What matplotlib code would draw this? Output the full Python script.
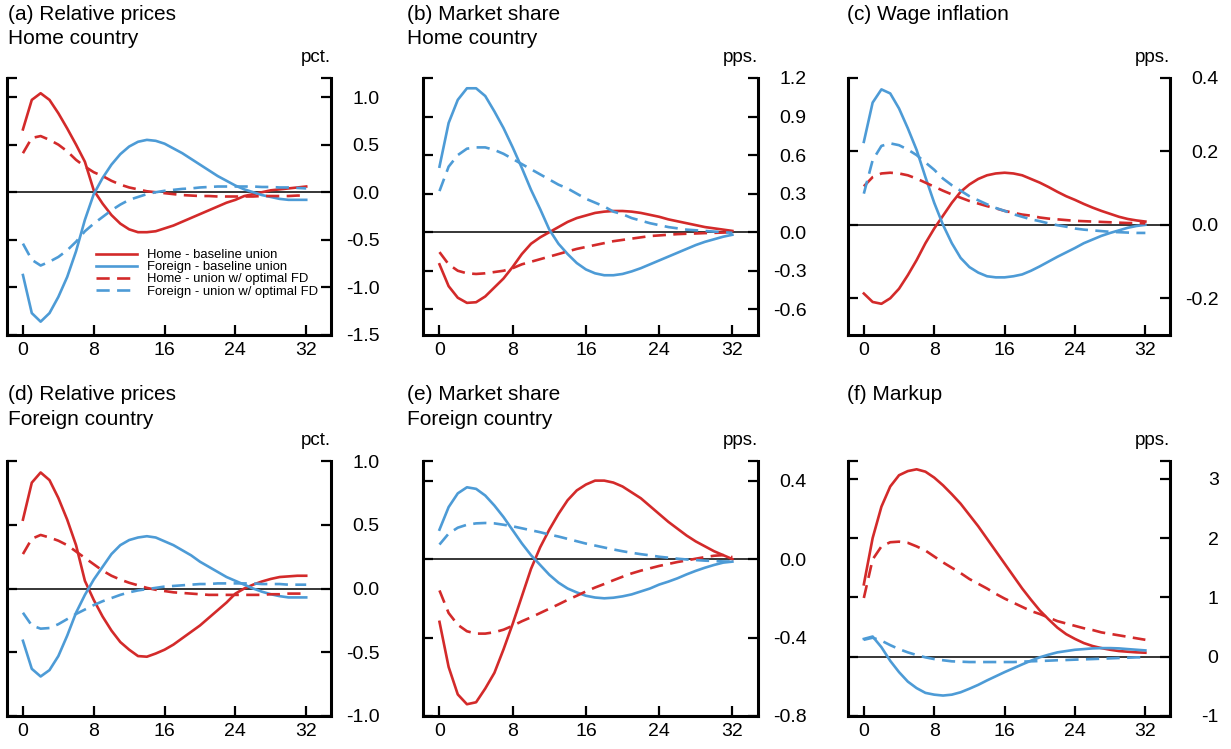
import matplotlib
matplotlib.use("Agg")
import matplotlib.pyplot as plt
import numpy as np

plt.rcParams['font.family'] = ['Liberation Sans', 'DejaVu Sans']

quarters = np.arange(33)

# (a) Relative prices, Home country
a_home_base = [0.66, 0.97, 1.04, 0.97, 0.83, 0.67, 0.50, 0.32, 0.02, -0.12, -0.24, -0.33, -0.39, -0.42, -0.42, -0.41,
               -0.38, -0.35, -0.31, -0.27, -0.23, -0.19, -0.15, -0.11, -0.08, -0.04, -0.02, 0.0, 0.02, 0.03, 0.04, 0.05, 0.06]
a_for_base = [-0.87, -1.27, -1.36, -1.27, -1.10, -0.89, -0.62, -0.29, -0.02, 0.15, 0.29, 0.40, 0.48, 0.53, 0.55, 0.54,
              0.51, 0.46, 0.41, 0.35, 0.29, 0.23, 0.17, 0.12, 0.07, 0.03, 0.0, -0.03, -0.05, -0.07, -0.08, -0.08, -0.08]
a_home_fd = [0.41, 0.57, 0.59, 0.55, 0.50, 0.43, 0.34, 0.27, 0.21, 0.17, 0.12, 0.08, 0.05, 0.03, 0.01, 0.0,
             -0.01, -0.02, -0.03, -0.035, -0.04, -0.04, -0.045, -0.045, -0.045, -0.045, -0.045, -0.04, -0.04, -0.04, -0.04, -0.035, -0.035]
a_for_fd = [-0.54, -0.71, -0.77, -0.73, -0.68, -0.61, -0.52, -0.41, -0.33, -0.26, -0.19, -0.13, -0.08, -0.05, -0.02, 0.0,
            0.015, 0.025, 0.035, 0.04, 0.05, 0.055, 0.06, 0.06, 0.06, 0.06, 0.06, 0.055, 0.055, 0.05, 0.05, 0.045, 0.04]

# (b) Market share, Home country
b_home_base = [-0.25, -0.42, -0.51, -0.55, -0.545, -0.50, -0.43, -0.36, -0.27, -0.17, -0.09, -0.04, 0.0, 0.04, 0.08, 0.11,
               0.13, 0.15, 0.16, 0.165, 0.165, 0.16, 0.15, 0.135, 0.12, 0.10, 0.085, 0.07, 0.055, 0.04, 0.03, 0.02, 0.01]
b_for_base = [0.51, 0.85, 1.03, 1.12, 1.12, 1.06, 0.94, 0.81, 0.66, 0.50, 0.33, 0.18, 0.02, -0.09, -0.17, -0.24,
              -0.29, -0.32, -0.335, -0.335, -0.325, -0.305, -0.28, -0.25, -0.22, -0.19, -0.16, -0.13, -0.10, -0.075, -0.055, -0.035, -0.02]
b_home_fd = [-0.155, -0.25, -0.30, -0.32, -0.325, -0.32, -0.31, -0.30, -0.28, -0.25, -0.23, -0.21, -0.19, -0.17, -0.15, -0.13,
             -0.115, -0.10, -0.085, -0.07, -0.06, -0.05, -0.04, -0.03, -0.025, -0.02, -0.015, -0.012, -0.01, -0.007, -0.005, -0.003, 0.0]
b_for_fd = [0.32, 0.51, 0.60, 0.65, 0.66, 0.66, 0.64, 0.61, 0.57, 0.53, 0.49, 0.45, 0.41, 0.37, 0.34, 0.30,
            0.26, 0.23, 0.20, 0.16, 0.14, 0.11, 0.09, 0.07, 0.055, 0.04, 0.03, 0.02, 0.015, 0.01, 0.005, 0.0, -0.005]

# (c) Wage inflation
c_home_base = [-0.187, -0.21, -0.215, -0.20, -0.174, -0.137, -0.096, -0.05, -0.01, 0.025, 0.06, 0.09, 0.11, 0.125, 0.135, 0.14,
               0.142, 0.14, 0.135, 0.125, 0.115, 0.103, 0.09, 0.078, 0.068, 0.057, 0.047, 0.038, 0.03, 0.022, 0.016, 0.012, 0.009]
c_for_base = [0.226, 0.333, 0.369, 0.358, 0.317, 0.263, 0.204, 0.13, 0.06, 0.0, -0.05, -0.09, -0.115, -0.13, -0.14, -0.143,
              -0.143, -0.14, -0.135, -0.125, -0.113, -0.10, -0.087, -0.075, -0.063, -0.05, -0.04, -0.03, -0.022, -0.015, -0.008, -0.003, 0.0]
c_home_fd = [0.105, 0.13, 0.14, 0.142, 0.14, 0.135, 0.126, 0.115, 0.104, 0.093, 0.083, 0.074, 0.065, 0.058, 0.051, 0.045,
             0.038, 0.033, 0.028, 0.025, 0.02, 0.017, 0.015, 0.013, 0.011, 0.01, 0.009, 0.008, 0.007, 0.006, 0.005, 0.005, 0.004]
c_for_fd = [0.085, 0.176, 0.215, 0.222, 0.217, 0.205, 0.19, 0.17, 0.15, 0.126, 0.108, 0.093, 0.078, 0.067, 0.056, 0.046,
            0.038, 0.029, 0.022, 0.015, 0.01, 0.004, -0.001, -0.005, -0.01, -0.013, -0.015, -0.017, -0.019, -0.02, -0.021, -0.022, -0.022]

# (d) Relative prices, Foreign country
d_home_base = [0.54, 0.83, 0.91, 0.85, 0.71, 0.54, 0.34, 0.06, -0.09, -0.22, -0.33, -0.42, -0.48, -0.53, -0.535, -0.51,
               -0.48, -0.44, -0.39, -0.34, -0.29, -0.23, -0.17, -0.11, -0.04, 0.0, 0.03, 0.055, 0.075, 0.09, 0.095, 0.1, 0.1]
d_for_base = [-0.41, -0.63, -0.69, -0.64, -0.53, -0.37, -0.19, -0.05, 0.07, 0.17, 0.27, 0.34, 0.38, 0.40, 0.41, 0.40,
              0.37, 0.34, 0.30, 0.26, 0.21, 0.17, 0.13, 0.09, 0.06, 0.03, 0.0, -0.025, -0.045, -0.06, -0.07, -0.07, -0.07]
d_home_fd = [0.27, 0.39, 0.42, 0.40, 0.375, 0.34, 0.29, 0.24, 0.19, 0.14, 0.10, 0.07, 0.045, 0.025, 0.005, -0.01,
             -0.02, -0.03, -0.035, -0.04, -0.045, -0.05, -0.05, -0.05, -0.05, -0.05, -0.05, -0.05, -0.045, -0.045, -0.04, -0.04, -0.04]
d_for_fd = [-0.19, -0.29, -0.315, -0.31, -0.28, -0.24, -0.20, -0.165, -0.13, -0.10, -0.075, -0.05, -0.03, -0.015, -0.005, 0.005,
            0.015, 0.02, 0.025, 0.03, 0.035, 0.035, 0.04, 0.04, 0.04, 0.04, 0.04, 0.035, 0.035, 0.035, 0.03, 0.03, 0.03]

# (e) Market share, Foreign country
e_home_base = [-0.32, -0.55, -0.69, -0.74, -0.73, -0.66, -0.58, -0.46, -0.33, -0.19, -0.05, 0.06, 0.15, 0.23, 0.30, 0.35,
               0.38, 0.40, 0.40, 0.39, 0.37, 0.34, 0.31, 0.27, 0.23, 0.19, 0.155, 0.12, 0.09, 0.065, 0.04, 0.02, 0.0]
e_for_base = [0.15, 0.265, 0.335, 0.366, 0.358, 0.324, 0.273, 0.214, 0.147, 0.08, 0.02, -0.03, -0.08, -0.12, -0.15, -0.17,
              -0.187, -0.196, -0.2, -0.197, -0.19, -0.18, -0.165, -0.15, -0.13, -0.115, -0.098, -0.078, -0.06, -0.044, -0.03, -0.018, -0.013]
e_home_fd = [-0.16, -0.275, -0.335, -0.368, -0.38, -0.38, -0.373, -0.36, -0.34, -0.317, -0.297, -0.275, -0.253, -0.231, -0.208, -0.187,
             -0.165, -0.145, -0.127, -0.108, -0.09, -0.073, -0.059, -0.047, -0.035, -0.025, -0.015, -0.007, 0.002, 0.01, 0.017, 0.02, 0.01]
e_for_fd = [0.074, 0.13, 0.16, 0.175, 0.182, 0.184, 0.182, 0.175, 0.167, 0.157, 0.147, 0.137, 0.125, 0.115, 0.103, 0.091,
            0.079, 0.069, 0.059, 0.049, 0.04, 0.032, 0.025, 0.019, 0.012, 0.007, 0.002, -0.002, -0.005, -0.008, -0.01, -0.012, -0.013]

# (f) Markup
f_home_base = [1.22, 2.0, 2.53, 2.87, 3.06, 3.13, 3.16, 3.12, 3.02, 2.89, 2.74, 2.58, 2.39, 2.20, 1.99, 1.78,
               1.57, 1.36, 1.15, 0.96, 0.78, 0.63, 0.49, 0.38, 0.30, 0.23, 0.18, 0.145, 0.117, 0.095, 0.084, 0.073, 0.067]
f_for_base = [0.30, 0.34, 0.16, -0.07, -0.26, -0.42, -0.53, -0.61, -0.64, -0.655, -0.64, -0.60, -0.54, -0.475, -0.40, -0.33,
              -0.26, -0.195, -0.13, -0.067, -0.01, 0.034, 0.073, 0.095, 0.117, 0.128, 0.14, 0.145, 0.145, 0.14, 0.128, 0.117, 0.106]
f_home_fd = [0.99, 1.64, 1.86, 1.93, 1.94, 1.92, 1.86, 1.79, 1.69, 1.59, 1.50, 1.41, 1.31, 1.23, 1.15, 1.06,
             0.98, 0.91, 0.84, 0.77, 0.72, 0.66, 0.60, 0.56, 0.52, 0.48, 0.45, 0.41, 0.385, 0.36, 0.335, 0.31, 0.285]
f_for_fd = [0.285, 0.32, 0.27, 0.195, 0.128, 0.073, 0.028, -0.011, -0.04, -0.06, -0.078, -0.084, -0.09, -0.09, -0.09, -0.09,
            -0.09, -0.09, -0.084, -0.078, -0.073, -0.067, -0.06, -0.056, -0.05, -0.045, -0.04, -0.034, -0.028, -0.022, -0.017, -0.011, -0.011]

titles = ["(a) Relative prices", "(b) Market share", "(c) Wage inflation",
          "(d) Relative prices", "(e) Market share", "(f) Markup"]
subtitles = ["Home country", "Home country", "", "Foreign country", "Foreign country", ""]
units = ["pct.", "pps.", "pps.", "pct.", "pps.", "pps."]
ylims = [(-1.5, 1.2), (-0.8, 1.2), (-0.3, 0.4), (-1.0, 1.0), (-0.8, 0.5), (-1.0, 3.3)]
yticks = [[-1.5, -1.0, -0.5, 0.0, 0.5, 1.0], [-0.6, -0.3, 0.0, 0.3, 0.6, 0.9, 1.2], [-0.2, 0.0, 0.2, 0.4],
          [-1.0, -0.5, 0.0, 0.5, 1.0], [-0.8, -0.4, 0.0, 0.4], [-1, 0, 1, 2, 3]]
yfmt = ["%.1f", "%.1f", "%.1f", "%.1f", "%.1f", "%d"]
series = [
    (a_home_base, a_for_base, a_home_fd, a_for_fd),
    (b_home_base, b_for_base, b_home_fd, b_for_fd),
    (c_home_base, c_for_base, c_home_fd, c_for_fd),
    (d_home_base, d_for_base, d_home_fd, d_for_fd),
    (e_home_base, e_for_base, e_home_fd, e_for_fd),
    (f_home_base, f_for_base, f_home_fd, f_for_fd),
]
labels = ["Home - baseline union", "Foreign - baseline union",
          "Home - union w/ optimal FD", "Foreign - union w/ optimal FD"]

RED = "#d32a2a"
BLUE = "#4d9bd6"

W, H = 1231, 749
fig = plt.figure(figsize=(W / 100, H / 100), dpi=100)

# axes boxes in pixels: left, right, top, bottom
col_x = [(7, 331), (423, 758), (848, 1170)]
row_y = [(78, 335), (461, 716)]
title_x = [8, 407, 847]
title_y = [14, 395]

for i in range(6):
    r, c = divmod(i, 3)
    x0, x1 = col_x[c]
    y0, y1 = row_y[r]
    ax = fig.add_axes([x0 / W, 1 - y1 / H, (x1 - x0) / W, (y1 - y0) / H])
    hb, fb, hf, ff = series[i]
    ax.axhline(0, color="black", lw=1.1, zorder=1)
    ax.plot(quarters, hb, color=RED, lw=1.9, label=labels[0])
    ax.plot(quarters, fb, color=BLUE, lw=1.9, label=labels[1])
    ax.plot(quarters, hf, color=RED, lw=1.9, ls=(0, (5, 2.8)), label=labels[2])
    ax.plot(quarters, ff, color=BLUE, lw=1.9, ls=(0, (5, 2.8)), label=labels[3])
    ax.set_xlim(-1.8, 34.8)
    ax.set_ylim(*ylims[i])
    ax.set_xticks([0, 8, 16, 24, 32])
    ax.set_yticks(yticks[i])
    ax.set_yticklabels([yfmt[i] % v for v in yticks[i]], ha="right")
    ax.set_yticks([ylims[i][1]], minor=True)
    ax.yaxis.tick_right()
    ax.tick_params(axis="y", which="both", left=True, right=True, direction="in",
                   length=7, width=1.6, labelsize=14, pad=35)
    ax.tick_params(axis="y", which="minor", length=7, width=1.6)
    ax.tick_params(axis="x", direction="in", length=7, width=1.6, labelsize=14, pad=5)
    ax.spines["top"].set_visible(False)
    for s in ["left", "right", "bottom"]:
        ax.spines[s].set_linewidth(2.2)
    fig.text(title_x[c] / W, 1 - title_y[r] / H, titles[i], fontsize=15, va="center", ha="left")
    if subtitles[i]:
        fig.text(title_x[c] / W, 1 - (title_y[r] + 24) / H, subtitles[i], fontsize=15,
                 va="center", ha="left")
    fig.text(x1 / W, 1 - (y0 - 20) / H, units[i], fontsize=13.5, va="center", ha="right")
    if i == 0:
        ax.legend(loc="upper left", bbox_to_anchor=(0.255, 0.36), frameon=False, fontsize=9.4,
                  handlelength=3.1, labelspacing=0.0, borderpad=0, handletextpad=0.8)

fig.savefig("out.png", dpi=100)
